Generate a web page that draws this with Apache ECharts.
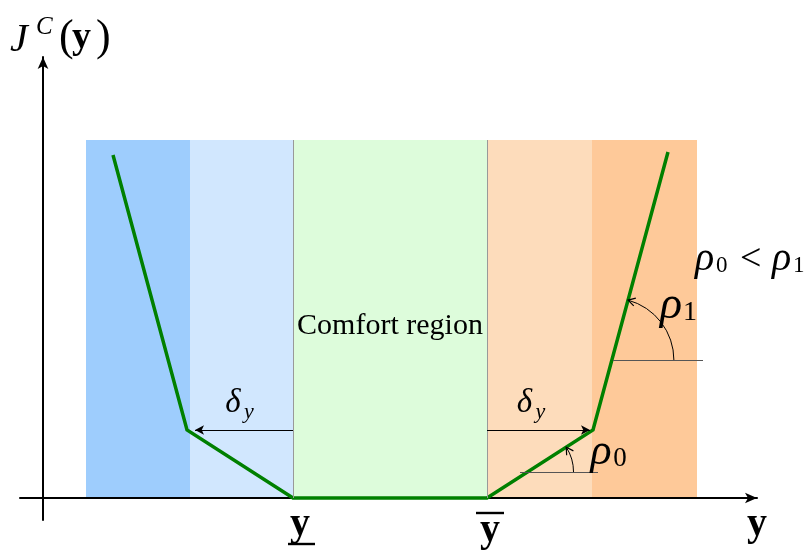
<!DOCTYPE html>
<html>
<head>
<meta charset="UTF-8">
<title>Comfort cost J^C(y)</title>
<style>
  html,body{margin:0;height:100%;width:100%;background:#fff}
  #main{width:809px;height:550px}
</style>
<script src="https://cdn.jsdelivr.net/npm/echarts@6/dist/echarts.min.js"></script>
</head>
<body>
<div id="main"></div>
<script>
// piecewise linear comfort cost
var costX = [70, 144, 250, 444, 550, 625];
var costY = [343, 68, 0, 0, 68, 346];
// shaded bands along the y axis
var bandEdges = [43, 147, 250, 444, 549, 654];
var bandTop = 358;
var bandColors = ['#9ecdfd', '#d1e7fe', '#ddfcdb', '#fddcbb', '#fec999'];
// comfort bounds and delta_y arrows
var yLow = 250, yHigh = 444;
var deltaLevel = 68;
var deltaEnds = [152, 547];
// horizontal reference lines for the slope angles
var rho0Ref = {y: 26, from: 477, to: 555};
var rho1Ref = {y: 138, from: 570, to: 660};

var chart = echarts.init(document.getElementById('main'));

var costData = costX.map(function (x, i) { return [x, costY[i]]; });

var areas = [];
for (var i = 0; i < bandColors.length; i++) {
  areas.push([
    {xAxis: bandEdges[i], yAxis: 0, itemStyle: {color: bandColors[i]}},
    {xAxis: bandEdges[i + 1], yAxis: bandTop}
  ]);
}

var option = {
  animation: false,
  grid: {left: 20, right: 52, top: 57, bottom: 30},
  xAxis: {
    type: 'value', min: -23, max: 714, z: 2,
    splitLine: {show: false}, axisTick: {show: false}, axisLabel: {show: false},
    axisLine: {onZero: true, lineStyle: {color: '#000', width: 2},
      symbol: ['none', 'arrow'], symbolSize: [8, 12]}
  },
  yAxis: {
    type: 'value', min: -22, max: 441, z: 2,
    splitLine: {show: false}, axisTick: {show: false}, axisLabel: {show: false},
    axisLine: {onZero: true, lineStyle: {color: '#000', width: 2},
      symbol: ['none', 'arrow'], symbolSize: [8, 12]}
  },
  series: [
    {
      type: 'line', data: [], z: 1, silent: true,
      markArea: {silent: true, data: areas},
      markLine: {
        silent: true, symbol: 'none', label: {show: false},
        lineStyle: {color: '#999', width: 1, type: 'solid'},
        data: [
          [{coord: [yLow, 0]}, {coord: [yLow, bandTop]}],
          [{coord: [yHigh, 0]}, {coord: [yHigh, bandTop]}]
        ]
      }
    },
    {
      type: 'line', data: [], z: 2, silent: true,
      markLine: {
        silent: true, label: {show: false}, symbol: 'none',
        lineStyle: {color: '#555', width: 1, type: 'solid'},
        data: [
          [{coord: [rho0Ref.from, rho0Ref.y]}, {coord: [rho0Ref.to, rho0Ref.y]}],
          [{coord: [rho1Ref.from, rho1Ref.y]}, {coord: [rho1Ref.to, rho1Ref.y]}],
          [{coord: [yLow, deltaLevel], symbol: 'none'},
           {coord: [deltaEnds[0], deltaLevel], symbol: 'arrow', symbolSize: [7, 9],
            lineStyle: {color: '#000', width: 1.2}}],
          [{coord: [yHigh, deltaLevel], symbol: 'none'},
           {coord: [deltaEnds[1], deltaLevel], symbol: 'arrow', symbolSize: [7, 9],
            lineStyle: {color: '#000', width: 1.2}}]
        ]
      }
    },
    {
      type: 'line', data: costData, z: 3, silent: true,
      showSymbol: false, symbol: 'none',
      lineStyle: {color: '#008000', width: 3.5, join: 'miter'}
    }
  ]
};
chart.setOption(option);

function px(x, y) { return chart.convertToPixel({gridIndex: 0}, [x, y]); }

var serif = '"Liberation Serif", "DejaVu Serif", serif';
function txt(x, y, s, size, opts) {
  opts = opts || {};
  return {
    type: 'text', x: x, y: y, z: 10, silent: true,
    style: {
      text: s, fill: '#000', fontSize: size, fontFamily: serif,
      fontStyle: opts.italic ? 'italic' : 'normal',
      fontWeight: opts.bold ? 'bold' : 'normal',
      align: opts.align || 'center', verticalAlign: opts.va || 'middle'
    }
  };
}
function seg(a, b, w, c) {
  return {type: 'line', z: 10, silent: true,
    shape: {x1: a[0], y1: a[1], x2: b[0], y2: b[1]},
    style: {stroke: c || '#000', lineWidth: w || 1}};
}

// angle arc from the horizontal reference up to a cost segment
function angleArc(refY, i0, r) {
  var a = px(costX[i0], costY[i0]), b = px(costX[i0 + 1], costY[i0 + 1]);
  var cy = px(0, refY)[1];
  var cx = a[0] + (cy - a[1]) / (b[1] - a[1]) * (b[0] - a[0]);
  var th = Math.atan2(a[1] - b[1], b[0] - a[0]);
  var tip = [cx + r * Math.cos(th), cy - r * Math.sin(th)];
  var dir = [-Math.sin(th), -Math.cos(th)];
  var nrm = [-dir[1], dir[0]];
  var L = 7, W = 4;
  var p1 = [tip[0] - L * dir[0] + W * nrm[0], tip[1] - L * dir[1] + W * nrm[1]];
  var p2 = [tip[0] - L * dir[0] - W * nrm[0], tip[1] - L * dir[1] - W * nrm[1]];
  return [
    {type: 'arc', z: 10, silent: true,
      shape: {cx: cx, cy: cy, r: r, startAngle: -th, endAngle: 0, clockwise: true},
      style: {stroke: '#000', lineWidth: 1, fill: null}},
    {type: 'polyline', z: 10, silent: true,
      shape: {points: [p1, tip, p2]},
      style: {stroke: '#000', lineWidth: 1.2, fill: null}}
  ];
}

var o = px(0, 0);
var lo = px(yLow, 0), hi = px(yHigh, 0);
var dl = px((yLow + deltaEnds[0]) / 2, deltaLevel);
var dr = px((yHigh + deltaEnds[1]) / 2, deltaLevel);
var mid = px((yLow + yHigh) / 2, 172);
var end = px(714, 0);

var g = [];
g.push(txt(10, 40, 'J', 40, {italic: true, align: 'left'}));
g.push(txt(36, 27, 'C', 25, {italic: true, align: 'left'}));
g.push(txt(59, 38, '(', 44, {align: 'left'}));
g.push(txt(72, 38, 'y', 38, {bold: true, align: 'left'}));
g.push(txt(96, 38, ')', 44, {align: 'left'}));

g.push(txt(lo[0] + 7, o[1] + 27, 'y', 40, {bold: true}));
g.push(seg([lo[0] - 5, o[1] + 46], [lo[0] + 22, o[1] + 46], 2.4));
g.push(txt(hi[0] + 3, o[1] + 33, 'y', 40, {bold: true}));
g.push(seg([hi[0] - 11, o[1] + 15], [hi[0] + 17, o[1] + 15], 2.4));
g.push(txt(end[0], o[1] + 27, 'y', 40, {bold: true}));

g.push(txt(dl[0] - 11, dl[1] - 27, 'δ', 33, {italic: true}));
g.push(txt(dl[0] + 5, dl[1] - 18, 'y', 22, {italic: true}));
g.push(txt(dr[0] - 14, dr[1] - 27, 'δ', 33, {italic: true}));
g.push(txt(dr[0] + 2, dr[1] - 18, 'y', 22, {italic: true}));

g.push(txt(mid[0], mid[1], 'Comfort region', 30));

g = g.concat(angleArc(rho0Ref.y, 3, 46));
g = g.concat(angleArc(rho1Ref.y, 4, 62));
g.push(txt(601, 452, 'ρ', 44, {italic: true}));
g.push(txt(620, 459, '0', 27));
g.push(txt(671, 306, 'ρ', 46, {italic: true}));
g.push(txt(690, 313, '1', 28));
g.push(txt(695, 259, 'ρ', 40, {italic: true, align: 'left'}));
g.push(txt(716, 266, '0', 23, {align: 'left'}));
g.push(txt(740, 260, '<', 38, {align: 'left'}));
g.push(txt(772, 259, 'ρ', 40, {italic: true, align: 'left'}));
g.push(txt(793, 266, '1', 23, {align: 'left'}));

chart.setOption({graphic: {elements: g}});
</script>
</body>
</html>
